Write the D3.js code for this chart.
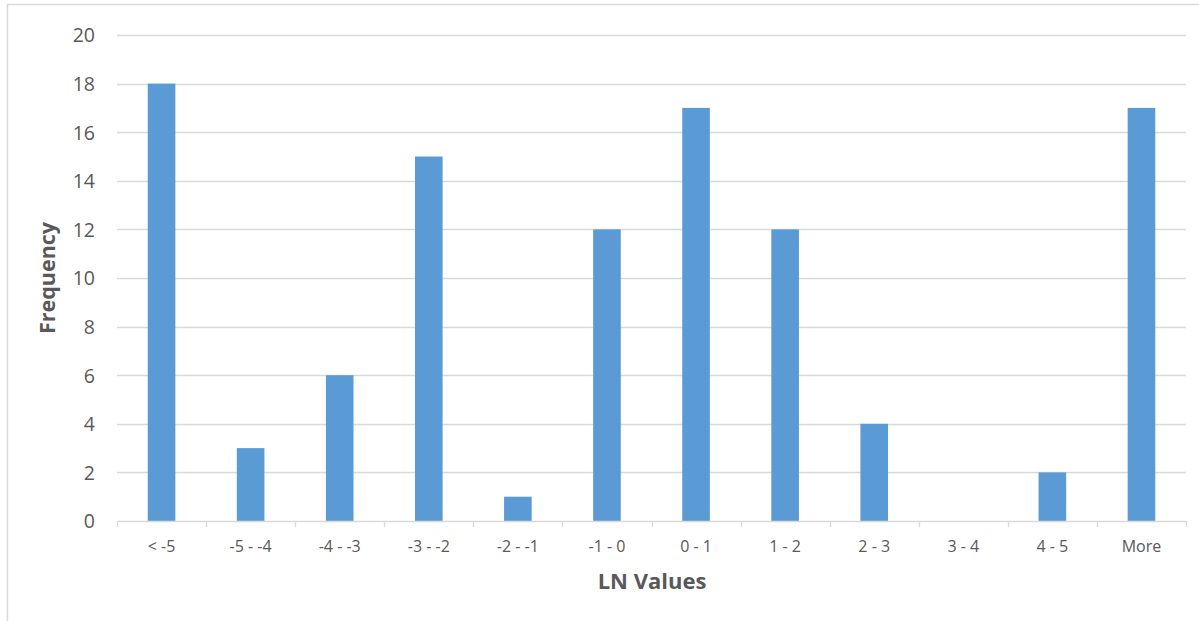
<!DOCTYPE html>
<html>
<head>
<meta charset="utf-8">
<script src="https://cdn.jsdelivr.net/npm/d3@7"></script>
<style>
  html, body { margin: 0; padding: 0; background: #fff; }
  svg { display: block; }
  text { font-family: "Open Sans", "Noto Sans", sans-serif; fill: #595959; }
</style>
</head>
<body>
<svg id="chart" width="1199" height="621"></svg>
<script>
const categories = ["< -5", "-5 - -4", "-4 - -3", "-3 - -2", "-2 - -1", "-1 - 0", "0 - 1", "1 - 2", "2 - 3", "3 - 4", "4 - 5", "More"];
const frequency = [18, 3, 6, 15, 1, 12, 17, 12, 4, 0, 2, 17];
const yTicks = [0, 2, 4, 6, 8, 10, 12, 14, 16, 18, 20];
const xTitle = "LN Values";
const yTitle = "Frequency";

const svg = d3.select("#chart");
const W = 1199, H = 621;
const plot = { left: 117, right: 1186, top: 35, bottom: 521 };

// chart border (cropped)
svg.append("rect")
  .attr("x", 7.5).attr("y", 4.5)
  .attr("width", W + 20).attr("height", H + 20)
  .attr("fill", "none").attr("stroke", "#d9d9d9").attr("stroke-width", 1.5);

const x = d3.scaleBand().domain(categories).range([plot.left, plot.right]).padding(0);
const y = d3.scaleLinear().domain([0, 20]).range([plot.bottom, plot.top]);

// gridlines
svg.append("g").selectAll("line").data(yTicks.filter(d => d > 0)).join("line")
  .attr("x1", plot.left).attr("x2", plot.right)
  .attr("y1", d => Math.round(y(d)) + 0.5).attr("y2", d => Math.round(y(d)) + 0.5)
  .attr("stroke", "#d9d9d9").attr("stroke-width", 1.3);

// bars
const bw = x.bandwidth() * 0.31;
svg.append("g").selectAll("rect").data(frequency).join("rect")
  .attr("x", (d, i) => x(categories[i]) + (x.bandwidth() - bw) / 2)
  .attr("y", d => y(d))
  .attr("width", bw)
  .attr("height", d => y(0) - y(d))
  .attr("fill", "#5b9bd5");

// x axis
const xAxis = d3.axisBottom(x).tickSize(0).tickPadding(0);
const gx = svg.append("g").attr("transform", `translate(0,${plot.bottom})`).call(xAxis);
gx.select(".domain").remove();
gx.selectAll("text").attr("font-size", 16).attr("dy", "0").attr("y", 31)
  .style("font-family", "'Open Sans', sans-serif").attr("fill", "#595959");
svg.append("line")
  .attr("x1", plot.left).attr("x2", plot.right)
  .attr("y1", plot.bottom + 0.5).attr("y2", plot.bottom + 0.5)
  .attr("stroke", "#d9d9d9").attr("stroke-width", 1.3);
const bounds = categories.map(c => x(c)).concat([plot.right]);
svg.append("g").selectAll("line").data(bounds).join("line")
  .attr("x1", d => Math.round(d) + 0.5).attr("x2", d => Math.round(d) + 0.5)
  .attr("y1", plot.bottom).attr("y2", plot.bottom + 6)
  .attr("stroke", "#d9d9d9").attr("stroke-width", 1.3);

// y axis labels
const yAxis = d3.axisLeft(y).tickValues(yTicks).tickSize(0).tickPadding(0);
const gy = svg.append("g").attr("transform", `translate(95,0)`).call(yAxis);
gy.select(".domain").remove();
gy.selectAll("text").attr("font-size", 19.5).attr("x", 0).attr("dy", "0.35em")
  .style("font-family", "'Open Sans', sans-serif").attr("fill", "#595959");

// titles
svg.append("text").attr("x", 652).attr("y", 589).attr("text-anchor", "middle")
  .attr("font-size", 22).attr("font-weight", "bold").text(xTitle);
svg.append("text").attr("transform", `translate(55,${(plot.top + plot.bottom) / 2}) rotate(-90)`)
  .attr("text-anchor", "middle").attr("font-size", 21.5).attr("font-weight", "bold").text(yTitle);
</script>
</body>
</html>
